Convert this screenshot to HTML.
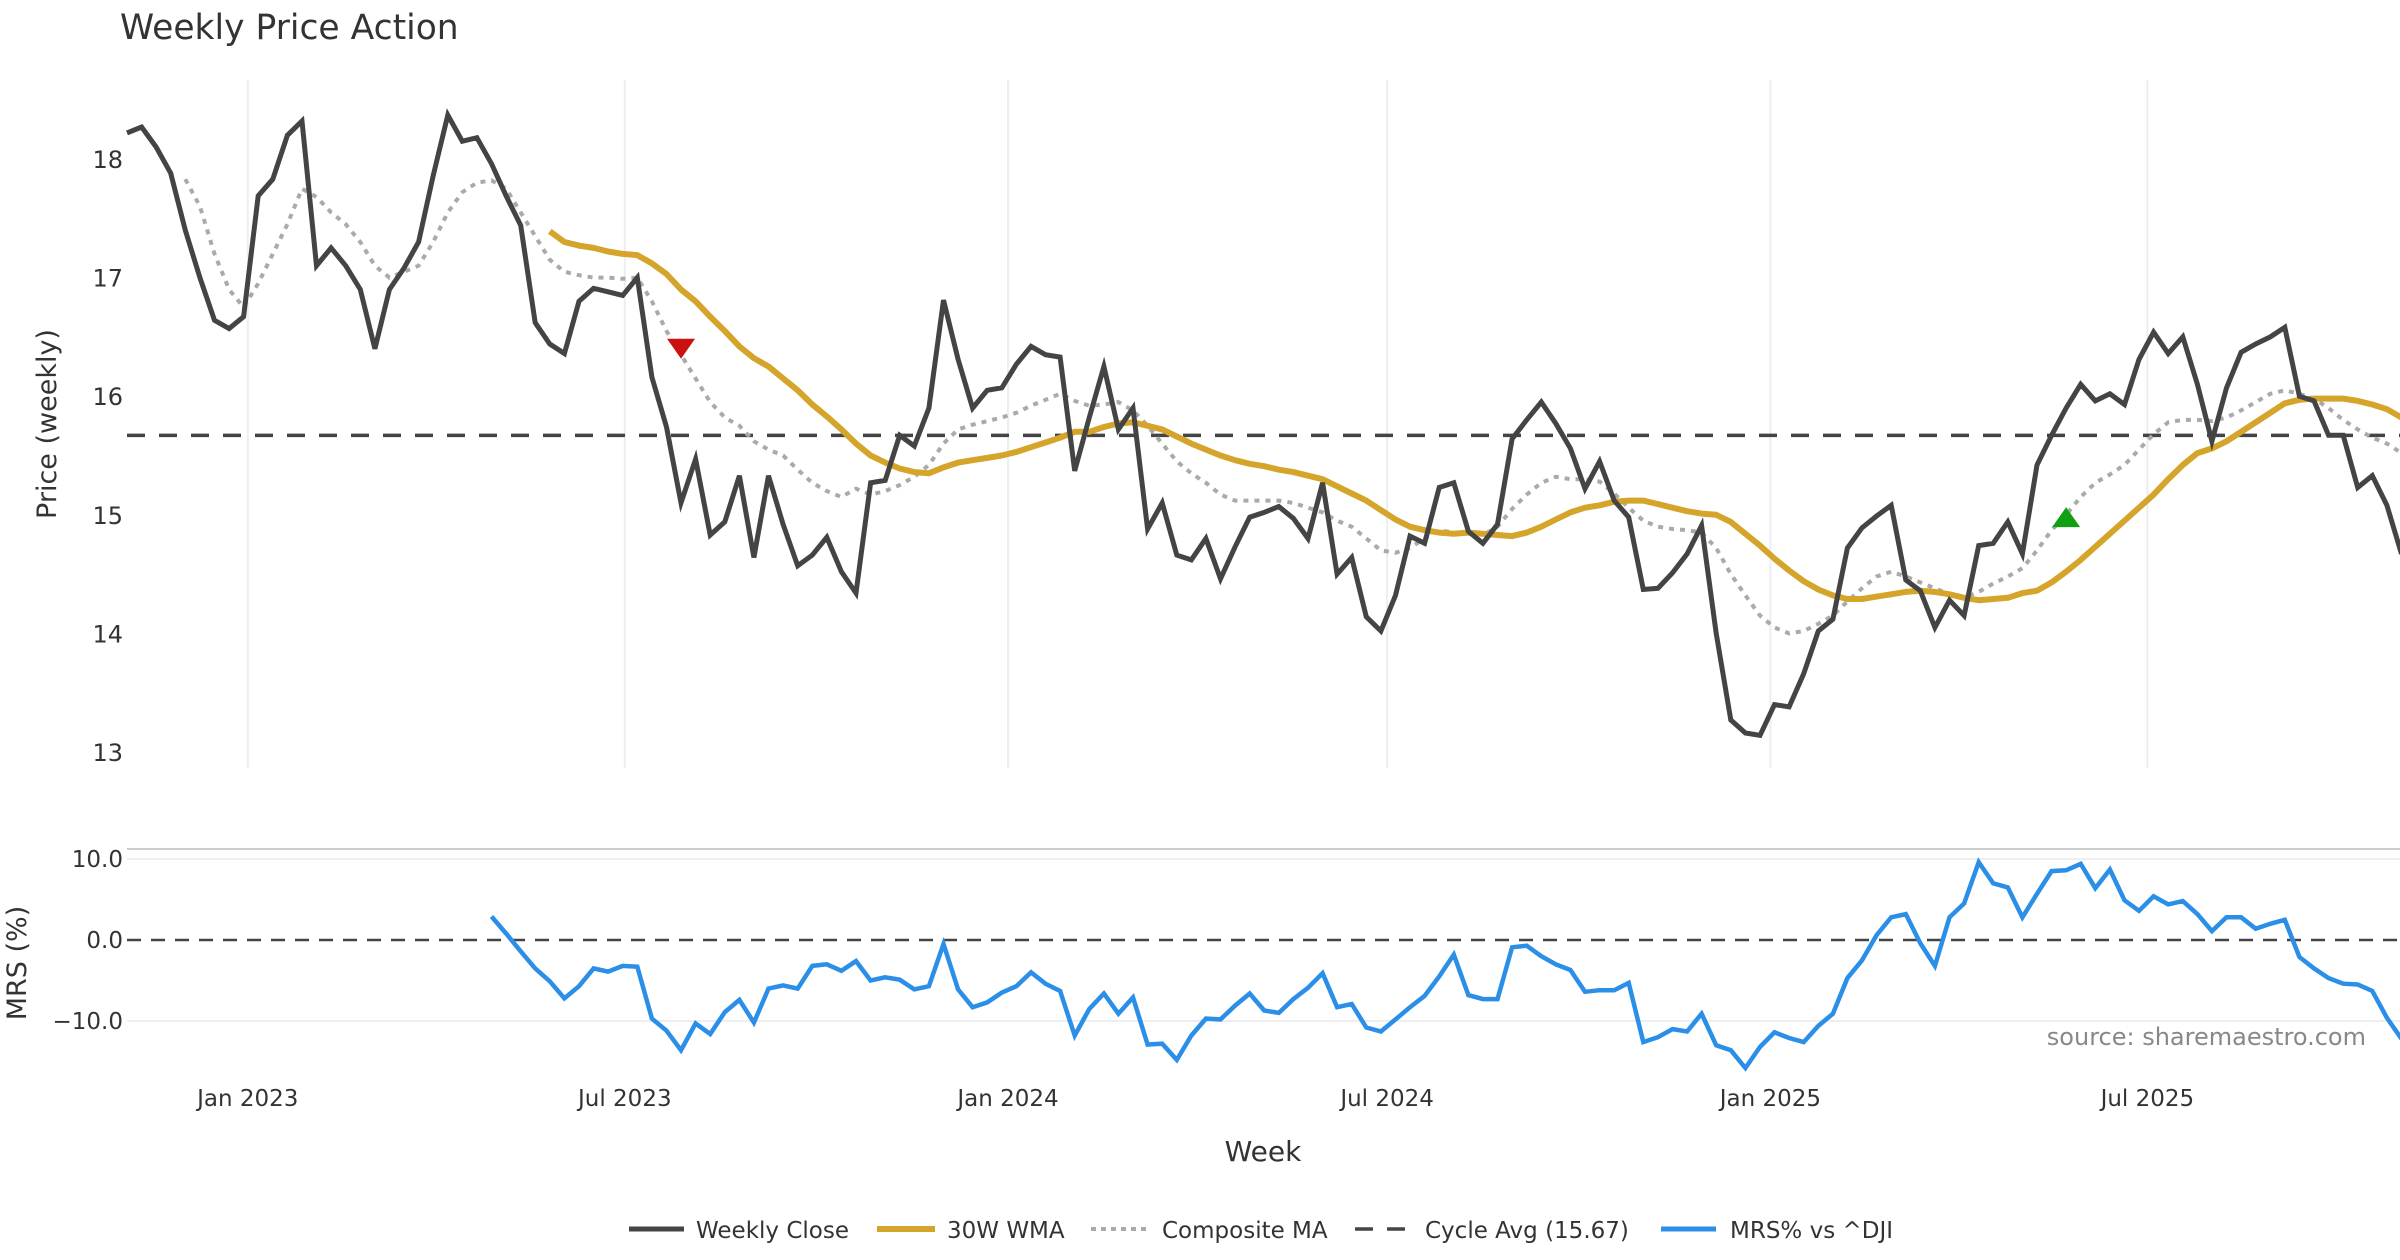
<!DOCTYPE html>
<html><head><meta charset="utf-8">
<style>
html,body{margin:0;padding:0;background:#fff;}
svg{display:block;font-family:"DejaVu Sans","Liberation Sans",sans-serif;}
</style></head>
<body>
<svg id="chart" width="2400" height="1260" viewBox="0 0 2400 1260" xmlns="http://www.w3.org/2000/svg">
<text x="120" y="39" font-size="34.5" fill="#333">Weekly Price Action</text>
<text transform="translate(56,424) rotate(-90)" text-anchor="middle" font-size="27" fill="#333">Price (weekly)</text>
<text transform="translate(26,963) rotate(-90)" text-anchor="middle" font-size="27" fill="#333">MRS (%)</text>
<text x="1263" y="1161" text-anchor="middle" font-size="28" fill="#333">Week</text>
<text x="2366" y="1045" text-anchor="end" font-size="24" fill="#888">source: sharemaestro.com</text>
<g id="grid"></g>
<g id="axes"></g>
<g id="series"></g>
<g id="legend">
  <line x1="629" y1="1229" x2="684" y2="1229" stroke="#444" stroke-width="5"/>
  <text x="696" y="1238" font-size="23" fill="#333">Weekly Close</text>
  <line x1="877" y1="1229" x2="935" y2="1229" stroke="#D4A52A" stroke-width="6"/>
  <text x="947" y="1238" font-size="23" fill="#333">30W WMA</text>
  <line x1="1091" y1="1229" x2="1146" y2="1229" stroke="#aaa" stroke-width="4" stroke-dasharray="5 5"/>
  <text x="1162" y="1238" font-size="23" fill="#333">Composite MA</text>
  <line x1="1355" y1="1229" x2="1410" y2="1229" stroke="#444" stroke-width="3.5" stroke-dasharray="18 14"/>
  <text x="1425" y="1238" font-size="23" fill="#333">Cycle Avg (15.67)</text>
  <line x1="1661" y1="1229" x2="1716" y2="1229" stroke="#2B8FE8" stroke-width="5"/>
  <text x="1730" y="1238" font-size="23" fill="#333">MRS% vs ^DJI</text>
</g>
</svg>
<script>
const closeVals=[18.22,18.27,18.1,17.88,17.4,17.0,16.64,16.57,16.67,17.69,17.83,18.2,18.32,17.1,17.25,17.1,16.9,16.4,16.9,17.08,17.3,17.86,18.37,18.15,18.18,17.96,17.69,17.44,16.62,16.44,16.36,16.8,16.91,16.88,16.85,17.0,16.16,15.74,15.1,15.47,14.83,14.94,15.33,14.64,15.33,14.92,14.57,14.66,14.81,14.52,14.34,15.27,15.29,15.67,15.58,15.9,16.81,16.31,15.9,16.05,16.07,16.27,16.42,16.35,16.33,15.37,15.82,16.25,15.72,15.9,14.88,15.1,14.66,14.62,14.8,14.46,14.73,14.98,15.02,15.07,14.97,14.8,15.27,14.5,14.64,14.14,14.02,14.32,14.82,14.76,15.23,15.27,14.86,14.76,14.92,15.64,15.8,15.95,15.77,15.56,15.22,15.45,15.12,14.98,14.37,14.38,14.51,14.67,14.91,14.0,13.27,13.16,13.14,13.4,13.38,13.66,14.02,14.12,14.72,14.89,14.99,15.08,14.45,14.36,14.05,14.28,14.15,14.74,14.76,14.94,14.67,15.42,15.67,15.9,16.1,15.96,16.02,15.93,16.31,16.54,16.36,16.5,16.1,15.62,16.07,16.37,16.44,16.5,16.58,16.0,15.96,15.67,15.67,15.23,15.33,15.08,14.67];
const wmaStart=29;
const wmaVals=[17.39,17.3,17.27,17.25,17.22,17.2,17.19,17.12,17.03,16.9,16.8,16.67,16.55,16.42,16.32,16.25,16.15,16.05,15.93,15.83,15.72,15.6,15.5,15.44,15.39,15.36,15.35,15.4,15.44,15.46,15.48,15.5,15.53,15.57,15.61,15.65,15.7,15.7,15.74,15.77,15.78,15.75,15.72,15.66,15.6,15.55,15.5,15.46,15.43,15.41,15.38,15.36,15.33,15.3,15.24,15.18,15.12,15.04,14.96,14.9,14.87,14.85,14.84,14.85,14.84,14.83,14.82,14.85,14.9,14.96,15.02,15.06,15.08,15.11,15.12,15.12,15.09,15.06,15.03,15.01,15.0,14.94,14.84,14.74,14.63,14.53,14.44,14.37,14.32,14.29,14.29,14.31,14.33,14.35,14.36,14.35,14.33,14.3,14.28,14.29,14.3,14.34,14.36,14.43,14.52,14.62,14.73,14.84,14.95,15.06,15.17,15.3,15.42,15.52,15.56,15.62,15.7,15.78,15.86,15.94,15.97,15.98,15.98,15.98,15.96,15.93,15.89,15.82];
const compStart=4;
const compVals=[17.83,17.6,17.2,16.9,16.75,16.95,17.2,17.45,17.75,17.68,17.55,17.45,17.3,17.1,17.0,17.05,17.1,17.3,17.55,17.72,17.8,17.82,17.75,17.55,17.35,17.15,17.05,17.02,17.0,17.0,16.99,17.0,16.8,16.55,16.35,16.15,15.95,15.82,15.75,15.62,15.55,15.5,15.38,15.27,15.2,15.15,15.22,15.17,15.2,15.25,15.32,15.42,15.6,15.72,15.76,15.79,15.82,15.86,15.92,15.97,16.02,15.96,15.92,15.93,15.95,15.88,15.75,15.6,15.45,15.35,15.27,15.17,15.12,15.12,15.12,15.12,15.1,15.06,15.02,14.95,14.9,14.8,14.7,14.68,14.72,14.8,14.87,14.85,14.85,14.83,14.9,15.05,15.17,15.27,15.32,15.3,15.3,15.28,15.18,15.06,14.95,14.9,14.88,14.87,14.85,14.72,14.5,14.32,14.15,14.05,14.0,14.02,14.08,14.15,14.27,14.38,14.48,14.52,14.48,14.43,14.38,14.33,14.3,14.35,14.42,14.48,14.55,14.7,14.87,15.0,15.15,15.27,15.34,15.42,15.55,15.68,15.78,15.8,15.8,15.79,15.82,15.88,15.95,16.02,16.05,16.02,15.98,15.9,15.8,15.72,15.65,15.6,15.52];
const mrsStart=25;
const mrsVals=[2.9,0.8,-1.4,-3.5,-5.1,-7.2,-5.7,-3.5,-3.9,-3.2,-3.3,-9.7,-11.2,-13.6,-10.3,-11.6,-8.9,-7.4,-10.2,-6.0,-5.6,-6.0,-3.2,-3.0,-3.8,-2.6,-5.0,-4.6,-4.9,-6.1,-5.7,-0.5,-6.1,-8.3,-7.7,-6.5,-5.7,-4.0,-5.4,-6.3,-11.8,-8.5,-6.6,-9.1,-7.1,-12.9,-12.8,-14.8,-11.8,-9.7,-9.8,-8.1,-6.6,-8.7,-9.0,-7.3,-5.9,-4.1,-8.3,-7.9,-10.8,-11.3,-9.8,-8.3,-6.9,-4.5,-1.8,-6.8,-7.3,-7.3,-0.9,-0.7,-2.0,-3.0,-3.7,-6.4,-6.2,-6.2,-5.3,-12.6,-12.0,-11.0,-11.3,-9.1,-13.0,-13.6,-15.8,-13.2,-11.4,-12.1,-12.6,-10.6,-9.1,-4.7,-2.5,0.6,2.8,3.2,-0.4,-3.2,2.8,4.5,9.6,7.0,6.5,2.8,5.7,8.5,8.6,9.4,6.4,8.7,4.9,3.6,5.4,4.4,4.8,3.2,1.1,2.8,2.8,1.4,2.0,2.5,-2.1,-3.5,-4.7,-5.4,-5.5,-6.3,-9.6,-12.2];
const cycleAvg=15.67;
const priceTicks=[13,14,15,16,17,18];
const mrsTicks=[10,0,-10];
const mrsTickLabels=["10.0","0.0","\u221210.0"];
const xTickDates=["2023-01-01","2023-07-01","2024-01-01","2024-07-01","2025-01-01","2025-07-01"];
const xTickLabels=["Jan 2023","Jul 2023","Jan 2024","Jul 2024","Jan 2025","Jul 2025"];
const signalDown={i:38,v:16.4};
const signalUp={i:133,v:14.98};
const startDate="2022-11-04";

const NS="http://www.w3.org/2000/svg";
const X0=127, WK=14.58;
const xi=i=>X0+i*WK;
const xd=d=>X0+((Date.parse(d)-Date.parse(startDate))/864e5)/7*WK;
const yp=v=>159+(18-v)*118.6;
const ym=v=>940-v*8.1;
function mk(tag,attrs,parent){const e=document.createElementNS(NS,tag);for(const k in attrs)e.setAttribute(k,attrs[k]);parent.appendChild(e);return e;}
const grid=document.getElementById('grid'),axes=document.getElementById('axes'),ser=document.getElementById('series');

xTickDates.forEach((d,k)=>{
  const x=xd(d);
  const g=mk('line',{x1:x,y1:80,x2:x,y2:768,stroke:'#eceef2','stroke-width':2},grid);
  
  
  const t=mk('text',{x:x,y:1106,'text-anchor':'middle','font-size':23,fill:'#333'},axes);
  t.textContent=xTickLabels[k];
  
  
});
priceTicks.forEach(v=>{
  const t=mk('text',{x:123,y:yp(v)+9,'text-anchor':'end','font-size':24,fill:'#333'},axes);
  t.textContent=String(v);
  
  
});
const sep=mk('line',{x1:127,y1:849,x2:2400,y2:849,stroke:'#ccc','stroke-width':2},grid);


mrsTicks.forEach((v,k)=>{
  if(v!==0){const g=mk('line',{x1:127,y1:ym(v),x2:2400,y2:ym(v),stroke:'#eceef2','stroke-width':2},grid);
  
  }
  const t=mk('text',{x:123,y:ym(v)+8,'text-anchor':'end','font-size':23,fill:'#333'},axes);
  t.textContent=mrsTickLabels[k];
  
  
});
const z=mk('line',{x1:127,y1:ym(0),x2:2400,y2:ym(0),stroke:'#444','stroke-width':2.5,'stroke-dasharray':'14 10'},grid);



function pts(vals,start,yf){return vals.map((v,k)=>xi(start+k).toFixed(1)+','+yf(v).toFixed(1)).join(' ');}
const cyc=mk('line',{x1:127,y1:yp(cycleAvg),x2:2400,y2:yp(cycleAvg),stroke:'#444','stroke-width':3.5,'stroke-dasharray':'18 14'},ser);


const comp=mk('polyline',{points:pts(compVals,compStart,yp),fill:'none',stroke:'#aaa','stroke-width':4,'stroke-dasharray':'5 6'},ser);


const wma=mk('polyline',{points:pts(wmaVals,wmaStart,yp),fill:'none',stroke:'#D4A52A','stroke-width':6,'stroke-linejoin':'round'},ser);


const cl=mk('polyline',{points:pts(closeVals,0,yp),fill:'none',stroke:'#444','stroke-width':5,'stroke-linejoin':'miter'},ser);


const mrs=mk('polyline',{points:pts(mrsVals,mrsStart,ym),fill:'none',stroke:'#2B8FE8','stroke-width':4.5},ser);


{const x=xi(signalDown.i),y=yp(signalDown.v);
const s=mk('polygon',{points:`${x-14},${y-10} ${x+14},${y-10} ${x},${y+10}`,fill:'#CC1111'},ser);

}
{const x=xi(signalUp.i),y=yp(signalUp.v);
const s=mk('polygon',{points:`${x-14},${y+10} ${x+14},${y+10} ${x},${y-10}`,fill:'#11A011'},ser);

}
</script>
</body></html>
